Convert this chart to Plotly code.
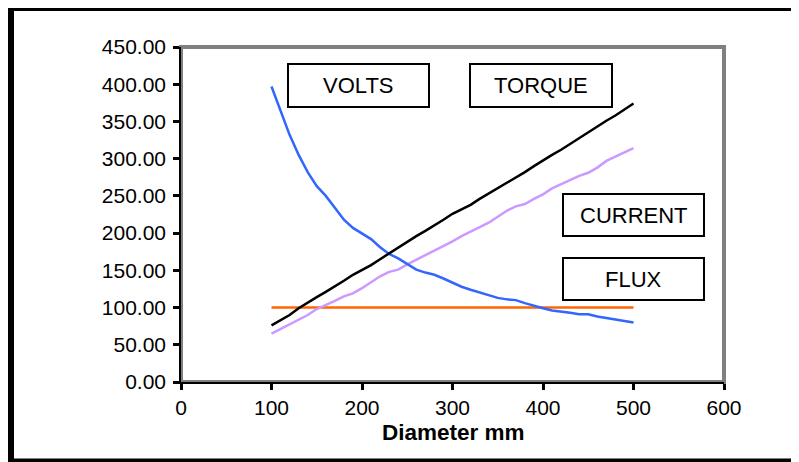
import plotly.graph_objects as go

diameter = [100, 110, 120, 130, 140, 150, 160, 170, 180, 190, 200,
            210, 220, 230, 240, 250, 260, 270, 280, 290, 300,
            310, 320, 330, 340, 350, 360, 370, 380, 390, 400,
            410, 420, 430, 440, 450, 460, 470, 480, 490, 500]

volts = [397, 365, 332, 305, 282, 263, 250, 234, 218, 207, 200,
         192, 181, 172, 166, 159, 151, 147, 144, 139, 133,
         128, 124, 120, 117, 113, 111, 110, 106, 102, 99,
         96, 95, 93, 91, 91, 88, 86, 84, 82, 80]

torque = [76, 83, 90, 99, 107, 114, 121, 128, 136, 144, 150,
          157, 165, 173, 181, 188, 196, 203, 210, 218, 226,
          232, 238, 246, 253, 260, 268, 275, 282, 290, 298,
          305, 312, 320, 328, 336, 343, 351, 358, 366, 374]

current = [65, 71, 77, 83, 90, 98, 103, 109, 115, 119, 126,
           134, 142, 148, 151, 158, 164, 170, 177, 183, 189,
           196, 202, 207, 214, 222, 230, 236, 239, 246, 252,
           260, 266, 272, 277, 281, 288, 297, 303, 308, 314]

flux = [100] * len(diameter)

y_ticks = [0, 50, 100, 150, 200, 250, 300, 350, 400, 450]
x_ticks = [0, 100, 200, 300, 400, 500, 600]

# page offset of the plot div (default body margin)
OFF = 8
W, H = 791, 454
ML, MR, MT, MB = 173, 75, 39, 80
PW, PH = W - ML - MR, H - MT - MB


def px(x):
    # screen x -> paper
    return (x - OFF - ML) / PW


def py(y):
    # screen y -> paper
    return (MT + PH - (y - OFF)) / PH


FONT = "Liberation Sans, Arial, sans-serif"

fig = go.Figure()
fig.add_trace(go.Scatter(x=diameter, y=flux, mode="lines", name="FLUX",
                         line=dict(color="#FF6600", width=2.5)))
fig.add_trace(go.Scatter(x=diameter, y=current, mode="lines", name="CURRENT",
                         line=dict(color="#CC99FF", width=2.5)))
fig.add_trace(go.Scatter(x=diameter, y=volts, mode="lines", name="VOLTS",
                         line=dict(color="#3366FF", width=2.5)))
fig.add_trace(go.Scatter(x=diameter, y=torque, mode="lines", name="TORQUE",
                         line=dict(color="#000000", width=2.5)))

shapes = [
    # outer border
    dict(type="rect", xref="paper", yref="paper",
         x0=px(11), x1=px(806), y0=py(461.5), y1=py(8),
         line=dict(color="black", width=6), layer="below"),
    # gray plot frame
    dict(type="rect", xref="paper", yref="paper",
         x0=0, x1=1, y0=0, y1=1,
         line=dict(color="#808080", width=4), layer="below"),
]

boxes = [
    ("VOLTS", 288, 429, 64, 107),
    ("TORQUE", 470, 612, 64, 107),
    ("CURRENT", 563, 704, 194, 236),
    ("FLUX", 563, 704, 258, 300),
]
annotations = []
for label, x0, x1, y0, y1 in boxes:
    shapes.append(dict(type="rect", xref="paper", yref="paper",
                       x0=px(x0), x1=px(x1), y0=py(y1), y1=py(y0),
                       line=dict(color="black", width=2),
                       fillcolor="white", layer="above"))
    annotations.append(dict(text=label, xref="paper", yref="paper",
                            x=px((x0 + x1) / 2), y=py((y0 + y1) / 2),
                            xanchor="center", yanchor="middle",
                            showarrow=False,
                            font=dict(family=FONT, size=22, color="black")))

annotations.append(dict(text="<b>Diameter mm</b>", xref="paper", yref="paper",
                        x=px(453), y=py(432), xanchor="center",
                        yanchor="middle", showarrow=False,
                        font=dict(family=FONT, size=22.5, color="black")))

fig.update_layout(
    width=W, height=H,
    margin=dict(l=ML, r=MR, t=MT, b=MB, pad=0),
    paper_bgcolor="white", plot_bgcolor="white",
    showlegend=False,
    font=dict(family=FONT, size=21, color="black"),
    shapes=shapes, annotations=annotations,
    xaxis=dict(range=[0, 600], tickvals=x_ticks, ticktext=[str(v) for v in x_ticks],
               showgrid=False, zeroline=False,
               showline=True, linecolor="black", linewidth=1.5,
               ticks="outside", ticklen=6, tickwidth=3, tickcolor="black",
               tickfont=dict(family=FONT, size=21, color="black")),
    yaxis=dict(range=[0, 450], tickvals=y_ticks,
               ticktext=[f"{v:.2f}" for v in y_ticks],
               showgrid=False, zeroline=False,
               showline=True, linecolor="black", linewidth=1.5,
               ticks="outside", ticklen=6, tickwidth=3, tickcolor="black",
               ticklabelstandoff=3,
               tickfont=dict(family=FONT, size=21, color="black")),
)

fig.write_html("out.html")
